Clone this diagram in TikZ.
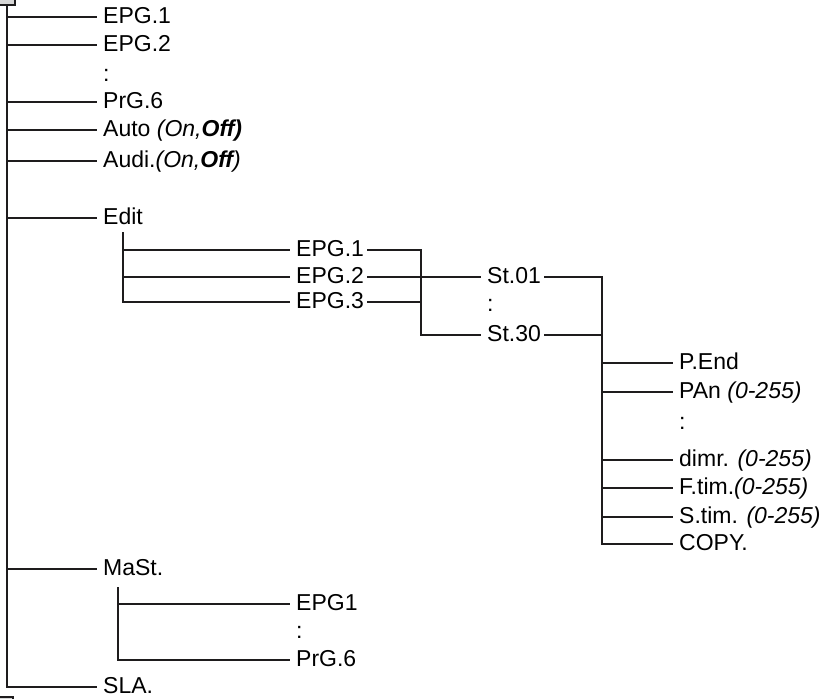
\documentclass[tikz,border=0pt]{standalone}
\usepackage{fontspec}
\setmainfont{Liberation Sans}
\usetikzlibrary{positioning}
\definecolor{inkline}{RGB}{30,28,29}
\definecolor{boxgray}{RGB}{214,214,214}
\tikzset{
  item/.style={anchor=west, inner xsep=6bp, inner ysep=0pt,
               text height=16.5bp, text depth=2.8bp,
               font=\fontsize{23bp}{27bp}\selectfont},
  link/.style={draw=inkline, line width=2.4bp},
  stub/.style={draw=inkline, line width=2.4bp, fill=boxgray},
}
\newcommand{\onoff}{\textit{(On,\textbf{Off})}}

\begin{document}
\begin{tikzpicture}[x=1bp, y=1bp]
  \useasboundingbox (0,0) rectangle (827,-699);

  % cut-off boxes at the page edges
  \draw[stub] (-10,10) rectangle (15,-5);
  \draw[stub] (-10,-697) rectangle (13,-720);

  % first level
  \coordinate (root) at (7,-5);
  \node[item] (epga) at (97,-17) {EPG.1};
  \node[item] (epgb) at (97,-45) {EPG.2};
  \node[item] (dotsa) at (97,-75) {:};
  \node[item] (prga) at (97,-102) {PrG.6};
  \node[item] (auto) at (97,-130) {Auto \textit{(On,\textbf{Off)}}};
  \node[item] (audi) at (97,-161) {Audi.\onoff};
  \node[item] (edit) at (97,-218) {Edit};
  \node[item] (mast) at (97,-569) {MaSt.};
  \node[item] (sla) at (97,-687) {SLA.};

  \draw[link] (root) |- (sla.west);
  \foreach \n in {epga, epgb, prga, auto, audi, edit, mast}
    \draw[link] (root |- \n) -- (\n.west);

  % Edit
  \coordinate (editroot) at (123,-232);
  \node[item] (edita) at (290,-250) {EPG.1};
  \node[item] (editb) at (290,-277) {EPG.2};
  \node[item] (editc) at (290,-302) {EPG.3};
  \draw[link] (editroot) |- (editc.west);
  \draw[link] (editroot |- edita) -- (edita.west);
  \draw[link] (editroot |- editb) -- (editb.west);

  % steps
  \coordinate (stbus) at (421,0);
  \node[item] (sta) at (481,-277) {St.01};
  \node[item] (dotsb) at (481,-305) {:};
  \node[item] (stz) at (481,-335) {St.30};
  \draw[link] ([xshift=-3bp]edita.east) -| (stbus |- stz) -- (stz.west);
  \draw[link] ([xshift=-3bp]editb.east) -- (sta.west);
  \draw[link] ([xshift=-3bp]editc.east) -- (stbus |- editc);

  % step settings
  \coordinate (setbus) at (602,0);
  \node[item] (pend) at (673,-363) {P.End};
  \node[item] (pan) at (673,-392) {PAn \textit{(0-255)}};
  \node[item] (dotsc) at (673,-423) {:};
  \node[item] (dimr) at (673,-460) {dimr. \textit{(0-255)}};
  \node[item] (ftim) at (673,-488) {F.tim.\textit{(0-255)}};
  \node[item] (stim) at (673,-517) {S.tim. \textit{(0-255)}};
  \node[item] (copy) at (673,-544) {COPY.};
  \draw[link] ([xshift=-3bp]sta.east) -| (setbus |- copy) -- (copy.west);
  \draw[link] ([xshift=-3bp]stz.east) -- (setbus |- stz);
  \foreach \n in {pend, pan, dimr, ftim, stim}
    \draw[link] (setbus |- \n) -- (\n.west);

  % MaSt.
  \coordinate (mastroot) at (118,-587);
  \node[item] (mepg) at (290,-604) {EPG1};
  \node[item] (dotsd) at (290,-632) {:};
  \node[item] (mprg) at (290,-660) {PrG.6};
  \draw[link] (mastroot) |- (mprg.west);
  \draw[link] (mastroot |- mepg) -- (mepg.west);
\end{tikzpicture}
\end{document}
